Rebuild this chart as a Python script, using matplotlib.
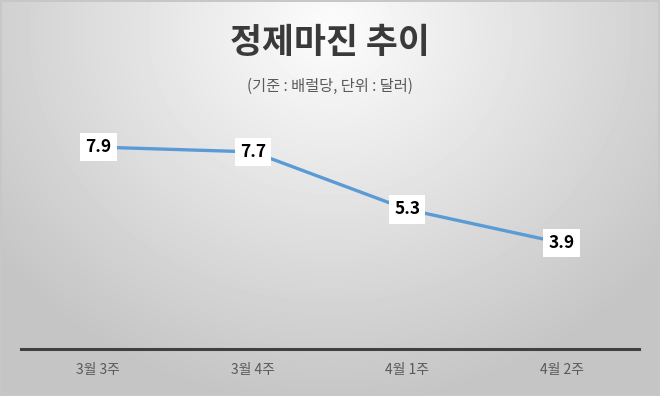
import numpy as np
import matplotlib
matplotlib.use("Agg")
import matplotlib.pyplot as plt

plt.rcParams['font.family'] = ['Noto Sans CJK KR', 'DejaVu Sans']

weeks = ["3월 3주", "3월 4주", "4월 1주", "4월 2주"]
margin = [7.9, 7.7, 5.3, 3.9]

fig = plt.figure(figsize=(6.6, 3.96), dpi=100)

# radial gray background, bright at top centre
bg = fig.add_axes([0, 0, 1, 1], zorder=0)
yy, xx = np.mgrid[0:396, 0:660]
r = np.sqrt(((xx - 330) / 400.0) ** 2 + ((yy - 30) / 360.0) ** 2)
shade = np.clip(0.99 - 0.21 * r, 0.77, 1.0)
shade[:2, :] = shade[-2:, :] = 0.78
shade[:, :2] = shade[:, -2:] = 0.78
bg.imshow(shade, cmap="gray", vmin=0, vmax=1, extent=[0, 1, 0, 1],
          aspect="auto", origin="upper")
bg.axis("off")

ax = fig.add_axes([0.032, 0.1187, 0.936, 0.637], zorder=1)
ax.patch.set_alpha(0)
x = np.arange(len(weeks))
ax.plot(x, margin, color="#5B9BD5", lw=2.4, solid_capstyle="round", zorder=2)
for xi, v in zip(x, margin):
    ax.text(xi, v, f"{v:.1f}", ha="center", va="center", fontsize=12.5,
            fontweight="bold", color="black", zorder=3,
            bbox=dict(boxstyle="square,pad=0.3", fc="white", ec="none"))

ax.set_xlim(-0.5, len(weeks) - 0.5)
ax.set_ylim(-0.52, 10)
ax.set_xticks(x)
ax.set_xticklabels(weeks, fontsize=10, color="#595959")
ax.tick_params(axis="x", length=0, pad=10)
ax.set_yticks([])
for s in ["top", "right", "left"]:
    ax.spines[s].set_visible(False)
ax.spines["bottom"].set_color("#404040")
ax.spines["bottom"].set_linewidth(2.2)

fig.text(0.5, 0.893, "정제마진 추이", ha="center", va="center", fontsize=25,
         fontweight="bold", color="#3a3a3a")
fig.text(0.5, 0.782, "(기준 : 배럴당, 단위 : 달러)", ha="center", va="center",
         fontsize=11, color="#595959")

fig.savefig("out.png", dpi=100)
